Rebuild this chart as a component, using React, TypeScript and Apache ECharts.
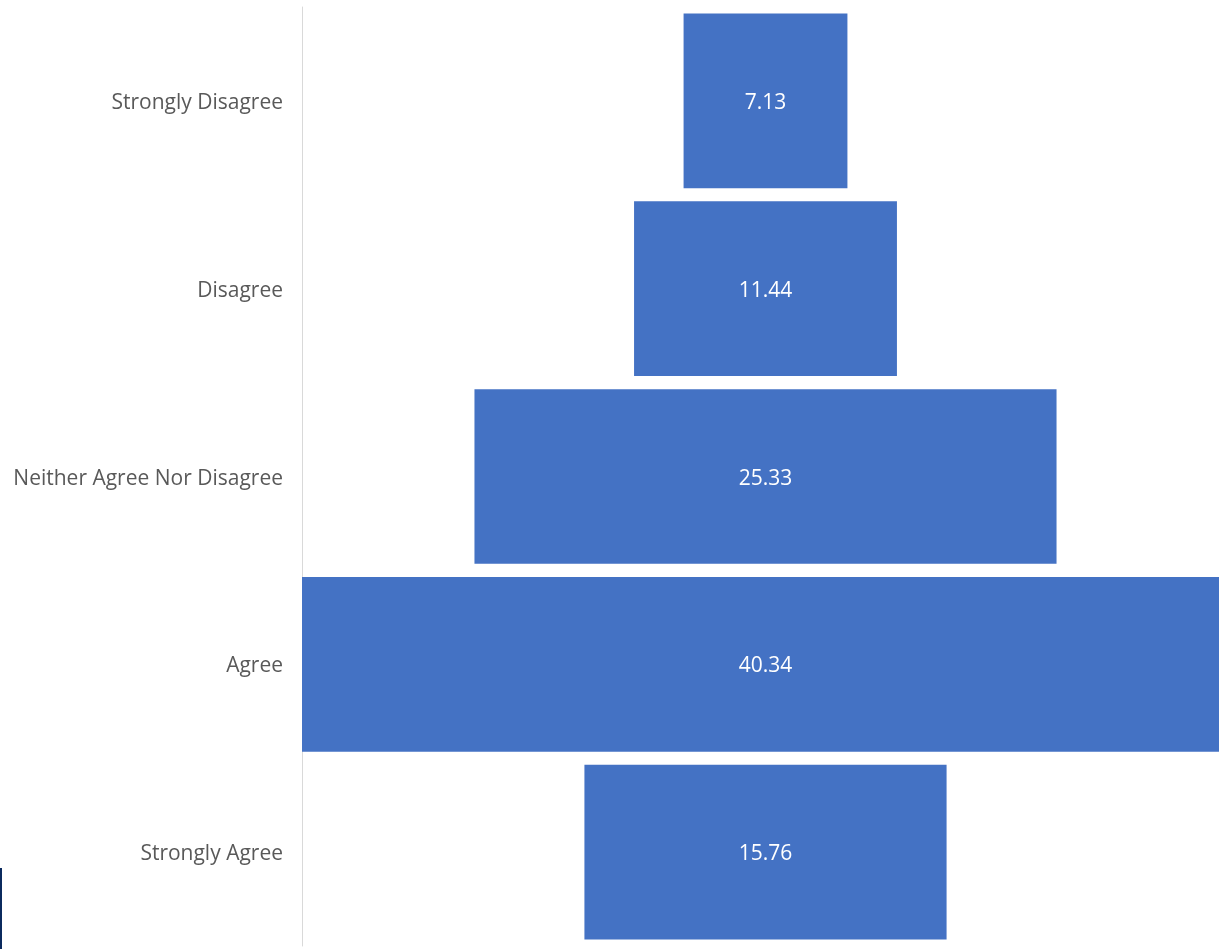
import React, { useEffect, useRef } from "react";
import * as echarts from "echarts";

const categories = ["Strongly Disagree", "Disagree", "Neither Agree Nor Disagree", "Agree", "Strongly Agree"];
const values = [7.13, 11.44, 25.33, 40.34, 15.76];

export default function App() {
  const ref = useRef<HTMLDivElement>(null);
  useEffect(() => {
    if (!ref.current) return;
    const chart = echarts.init(ref.current, null, { renderer: "svg" });
    const maxV = Math.max(...values);
    const offsets = values.map((v) => (maxV - v) / 2);
    chart.setOption({
      animation: false,
      grid: { left: 302, right: 0, top: 7, bottom: 3, containLabel: false },
      xAxis: { type: "value", min: 0, max: maxV, show: false },
      yAxis: {
        type: "category",
        data: categories,
        inverse: true,
        axisLine: { show: true, lineStyle: { color: "#d9d9d9", width: 1 } },
        axisTick: { show: false },
        axisLabel: { color: "#595959", fontSize: 21, fontFamily: "Open Sans", margin: 19 },
      },
      series: [
        {
          type: "bar",
          stack: "f",
          data: offsets,
          itemStyle: { color: "transparent" },
          silent: true,
          barCategoryGap: "7%",
        },
        {
          type: "bar",
          stack: "f",
          data: values,
          barCategoryGap: "7%",
          itemStyle: { color: "#4472c4" },
          label: {
            show: true,
            position: "inside",
            color: "#ffffff",
            fontSize: 21,
            fontFamily: "Open Sans",
            formatter: (p: any) => p.value.toFixed(2),
          },
        },
      ],
      graphic: [
        { type: "rect", left: 0, top: 868, shape: { width: 2, height: 81 }, style: { fill: "#0b2a5e" } },
      ],
    });
    return () => chart.dispose();
  }, []);
  return (
    <div style={{ position: "fixed", left: 0, top: 0, width: 1219, height: 949, overflow: "hidden" }}>
      <div ref={ref} style={{ width: 1229, height: 949 }} />
    </div>
  );
}
